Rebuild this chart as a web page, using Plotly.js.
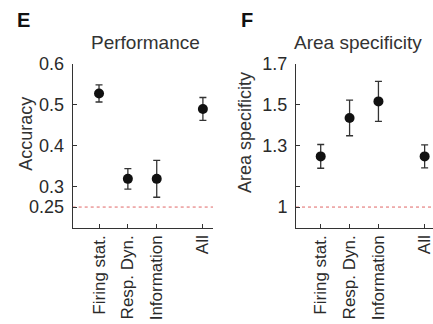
<!DOCTYPE html>
<html>
<head>
<meta charset="utf-8">
<script src="https://cdn.plot.ly/plotly-3.0.1.min.js"></script>
<style>
  html, body { margin: 0; padding: 0; background: #ffffff; }
  #chart { width: 433px; height: 324px; }
</style>
</head>
<body>
<div id="chart"></div>
<script>
// ---- data ----
const categories = ['Firing stat.', 'Resp. Dyn.', 'Information', 'All'];
const xPos = [1, 2, 3, 4.6];

const accuracy = [0.528, 0.319, 0.319, 0.490];
const accuracyErr = [0.021, 0.025, 0.045, 0.028];
const accuracyChance = 0.25;
const accuracyTicks = [0.25, 0.3, 0.4, 0.5, 0.6];
const accuracyTickText = ['0.25', '0.3', '0.4', '0.5', '0.6'];

const specificity = [1.248, 1.436, 1.517, 1.248];
const specificityErr = [0.058, 0.087, 0.098, 0.056];
const specificityChance = 1;
const specificityTicks = [1, 1.1, 1.3, 1.5, 1.7];
const specificityTickText = ['1', '', '1.3', '1.5', '1.7'];

// ---- styling ----
const FONT = 'Liberation Sans, Arial, Helvetica, sans-serif';
const textColor = '#2a2a2a';
const axisColor = '#333333';

function pointTrace(y, err, xa, ya) {
  return {
    type: 'scatter', mode: 'markers',
    x: xPos, y: y, xaxis: xa, yaxis: ya,
    marker: { color: '#111111', size: 10, symbol: 'circle' },
    error_y: { type: 'data', array: err, visible: true, color: '#333333', thickness: 1.3, width: 3.5 },
    showlegend: false, hoverinfo: 'x+y'
  };
}

const data = [
  pointTrace(accuracy, accuracyErr, 'x', 'y'),
  pointTrace(specificity, specificityErr, 'x2', 'y2')
];

const W = 433, H = 324;
const yDom = [1 - 227.5 / H, 1 - 64 / H];

function xAxis(domain, range) {
  return {
    domain: domain, range: range, type: 'linear',
    tickvals: xPos, ticktext: categories, tickangle: -90,
    ticks: 'inside', ticklen: 4, tickcolor: axisColor, tickwidth: 1,
    showline: true, linecolor: axisColor, linewidth: 1,
    showgrid: false, zeroline: false, fixedrange: true,
    ticklabeloverflow: 'allow',
    tickfont: { family: FONT, size: 17, color: textColor }
  };
}
function yAxis(range, tv, tt, anchor) {
  return {
    domain: yDom, range: range, anchor: anchor,
    tickvals: tv, ticktext: tt,
    ticks: 'inside', ticklen: 4, tickcolor: axisColor, tickwidth: 1,
    showline: true, linecolor: axisColor, linewidth: 1,
    showgrid: false, zeroline: false, fixedrange: true,
    ticklabelstandoff: 4,
    tickfont: { family: FONT, size: 18, color: textColor }
  };
}

const layout = {
  width: W, height: H, autosize: false,
  margin: { l: 0, r: 0, t: 0, b: 0, pad: 0 },
  paper_bgcolor: '#ffffff', plot_bgcolor: '#ffffff',
  showlegend: false,
  xaxis: Object.assign(xAxis([72.7 / W, 213 / W], [0.088, 4.95]), { anchor: 'y' }),
  yaxis: yAxis([0.2, 0.6], accuracyTicks, accuracyTickText, 'x'),
  xaxis2: Object.assign(xAxis([296 / W, 1], [0.144, 4.89]), { anchor: 'y2' }),
  yaxis2: yAxis([0.9, 1.7], specificityTicks, specificityTickText, 'x2'),
  shapes: [
    { type: 'line', xref: 'x domain', yref: 'y', x0: 0, x1: 1, y0: accuracyChance, y1: accuracyChance,
      line: { color: '#e06666', width: 1, dash: '3px,3px' }, layer: 'below' },
    { type: 'line', xref: 'x2 domain', yref: 'y2', x0: 0, x1: 1, y0: specificityChance, y1: specificityChance,
      line: { color: '#e06666', width: 1, dash: '3px,3px' }, layer: 'below' }
  ],
  annotations: [
    { text: '<b>E</b>', xref: 'paper', yref: 'paper', x: 15 / W, y: 1 - 19.5 / H, xanchor: 'left', yanchor: 'middle',
      showarrow: false, font: { family: FONT, size: 20, color: '#111111' } },
    { text: '<b>F</b>', xref: 'paper', yref: 'paper', x: 239 / W, y: 1 - 19.5 / H, xanchor: 'left', yanchor: 'middle',
      showarrow: false, font: { family: FONT, size: 20, color: '#111111' } },
    { text: 'Performance', xref: 'paper', yref: 'paper', x: 145.3 / W, y: 1 - 42.5 / H, xanchor: 'center', yanchor: 'middle',
      showarrow: false, font: { family: FONT, size: 19, color: '#333333' } },
    { text: 'Area specificity', xref: 'paper', yref: 'paper', x: 358 / W, y: 1 - 42.5 / H, xanchor: 'center', yanchor: 'middle',
      showarrow: false, font: { family: FONT, size: 19, color: '#333333' } },
    { text: 'Accuracy', xref: 'paper', yref: 'paper', x: 25.7 / W, y: 1 - 134 / H, xanchor: 'center', yanchor: 'middle',
      textangle: -90, showarrow: false, font: { family: FONT, size: 18, color: '#333333' } },
    { text: 'Area specificity', xref: 'paper', yref: 'paper', x: 245 / W, y: 1 - 133 / H, xanchor: 'center', yanchor: 'middle',
      textangle: -90, showarrow: false, font: { family: FONT, size: 18, color: '#333333' } }
  ]
};

Plotly.newPlot('chart', data, layout, { staticPlot: true, displayModeBar: false });
</script>
</body>
</html>
